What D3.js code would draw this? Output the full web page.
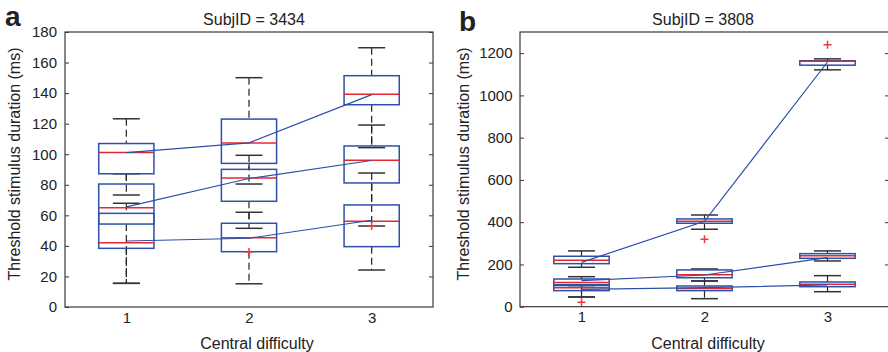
<!DOCTYPE html>
<html lang="en">
<head>
    <meta charset="utf-8">
    <title>Threshold stimulus duration by central difficulty</title>
    <style>
        body {
            margin: 0;
            background: white;
        }

        svg text {
            font-family: "Liberation Sans", Arial, sans-serif;
            fill: #222;
        }

        .frame {
            fill: none;
            stroke: #3a3a3a;
            stroke-width: 1.2;
        }

        .whisker {
            stroke: #222;
            stroke-width: 1.2;
            stroke-dasharray: 7 4;
        }

        .cap {
            stroke: #333;
            stroke-width: 1.5;
        }

        .box {
            fill: none;
            stroke: #2d51a8;
            stroke-width: 1.5;
        }

        .median {
            stroke: #e6282e;
            stroke-width: 1.5;
        }

        .trend {
            fill: none;
            stroke: #2a4faa;
            stroke-width: 1.2;
        }

        .outlier {
            fill: none;
            stroke: #ec3a40;
            stroke-width: 1.5;
        }
    </style>
</head>
<body>
<svg id="chart" width="888" height="352"></svg>
<script src="https://d3js.org/d3.v7.min.js"></script>
<script>
    // x categories
    const difficulty = [1, 2, 3];

    // panel a, SubjID = 3434: one row per block series (low, mid, high), one value per difficulty
    const aQ1 = [[38.4, 36.2, 39.5], [54.3, 69.2, 81.2], [87.2, 94.0, 132.4]];
    const aMedian = [[42.1, 45.4, 56.1], [65.0, 84.4, 96.0], [101.1, 107.3, 139.2]];
    const aQ3 = [[61.3, 54.8, 66.8], [80.5, 90.1, 105.4], [107.0, 123.0, 151.4]];
    const aLow = [[15.5, 15.2, 24.2], [15.5, 51.5, 53.0], [73.3, 80.5, 104.3]];
    const aHigh = [[67.9, 62.0, 87.7], [87.2, 99.3, 119.1], [123.2, 150.1, 169.7]];
    const aTrend = [[43.2, 45.0, 56.8], [65.5, 84.1, 95.9], [101.0, 107.4, 139.0]];
    const aOutX = [2, 3];
    const aOutY = [36.0, 53.0];
    const aTicks = [0, 20, 40, 60, 80, 100, 120, 140, 160, 180];

    // panel b, SubjID = 3808
    const bQ1 = [[76, 76, 94.7], [100, 137, 229], [203.7, 395, 1143]];
    const bMedian = [[90, 86, 106], [114, 151.6, 241.6], [219.8, 404, 1162]];
    const bQ3 = [[104, 98, 117], [131, 174, 251], [238.7, 415.4, 1164]];
    const bLow = [[46, 38, 71], [46, 121.7, 216.5], [186.6, 366.6, 1121]];
    const bHigh = [[100, 121.7, 147], [142, 178.6, 264], [264, 434, 1173]];
    const bTrend = [[82, 90, 103], [123, 150, 232], [210, 404, 1158]];
    const bOutX = [1, 2, 3];
    const bOutY = [21, 319, 1240];
    const bTicks = [0, 200, 400, 600, 800, 1000, 1200];

    const svg = d3.select("#chart");
    const boxWidth = 0.45;
    const capWidth = 0.22;

    function drawPanel(p)
    {
        const x = d3.scaleLinear().domain([0.5, 3.5]).range([p.left, p.right]);
        const y = d3.scaleLinear().domain([0, p.yMax]).range([p.bottom, p.top]);
        const g = svg.append("g");

        // flatten series x difficulty into one list of boxes
        const boxes = [];
        p.q1.forEach((row, s) =>
        {
            row.forEach((v, i) =>
            {
                boxes.push({
                    d: difficulty[i], q1: v, med: p.med[s][i], q3: p.q3[s][i],
                    lo: p.lo[s][i], hi: p.hi[s][i]
                });
            });
        });

        // y axis left with labels, right without; ticks point inward
        g.append("g").attr("transform", `translate(${p.left},0)`)
            .call(d3.axisLeft(y).tickValues(p.ticks).tickSizeInner(-4).tickSizeOuter(0)
                .tickPadding(p.pad).tickFormat(d3.format("d")))
            .call(a => a.select(".domain").remove())
            .call(a => a.selectAll("line").attr("stroke", "#333"))
            .call(a => a.selectAll("text").attr("font-size", 15).attr("fill", "#222"));

        g.append("g").attr("transform", `translate(${p.right},0)`)
            .call(d3.axisRight(y).tickValues(p.ticks.filter(t => t > 0)).tickSizeInner(-4).tickSizeOuter(0).tickFormat(""))
            .call(a => a.select(".domain").remove())
            .call(a => a.selectAll("line").attr("stroke", "#333"));

        g.append("g").attr("transform", `translate(0,${p.bottom})`)
            .call(d3.axisBottom(x).tickValues(difficulty).tickSize(0).tickPadding(5).tickFormat(d3.format("d")))
            .call(a => a.select(".domain").remove())
            .call(a => a.selectAll("text").attr("font-size", 15).attr("fill", "#222"));

        g.append("rect").attr("class", "frame")
            .attr("x", p.left).attr("y", p.top)
            .attr("width", p.right - p.left).attr("height", p.bottom - p.top);

        // whiskers
        g.selectAll(".whisker-up").data(boxes).join("line").attr("class", "whisker")
            .attr("x1", d => x(d.d)).attr("x2", d => x(d.d))
            .attr("y1", d => y(d.hi)).attr("y2", d => y(d.q3));
        g.selectAll(".whisker-down").data(boxes).join("line").attr("class", "whisker")
            .attr("x1", d => x(d.d)).attr("x2", d => x(d.d))
            .attr("y1", d => y(d.q1)).attr("y2", d => y(d.lo));

        ["lo", "hi"].forEach(k =>
        {
            g.append("g").selectAll("line").data(boxes).join("line").attr("class", "cap")
                .attr("x1", d => x(d.d - capWidth / 2)).attr("x2", d => x(d.d + capWidth / 2))
                .attr("y1", d => y(d[k])).attr("y2", d => y(d[k]));
        });

        g.append("g").selectAll("rect").data(boxes).join("rect").attr("class", "box")
            .attr("x", d => x(d.d - boxWidth / 2))
            .attr("width", x(boxWidth) - x(0))
            .attr("y", d => y(d.q3))
            .attr("height", d => y(d.q1) - y(d.q3));

        g.append("g").selectAll("line").data(boxes).join("line").attr("class", "median")
            .attr("x1", d => x(d.d - boxWidth / 2)).attr("x2", d => x(d.d + boxWidth / 2))
            .attr("y1", d => y(d.med)).attr("y2", d => y(d.med));

        const line = d3.line().x((v, i) => x(difficulty[i])).y(v => y(v));
        g.append("g").selectAll("path").data(p.trend).join("path").attr("class", "trend")
            .attr("d", line);

        g.append("g").selectAll("path").data(p.outX).join("path").attr("class", "outlier")
            .attr("d", (d, i) =>
            {
                const cx = x(d), cy = y(p.outY[i]);
                return `M${cx - 4},${cy}H${cx + 4}M${cx},${cy - 4}V${cy + 4}`;
            });

        g.append("text").attr("x", p.titleX).attr("y", 25)
            .attr("text-anchor", "middle").attr("font-size", 16).text(p.title);

        g.append("text").attr("x", p.xLabelX).attr("y", 349)
            .attr("text-anchor", "middle").attr("font-size", 16).text("Central difficulty");

        g.append("text").attr("transform", `translate(${p.yLabelX},164) rotate(-90)`)
            .attr("text-anchor", "middle").attr("font-size", 16)
            .text("Threshold stimulus duration (ms)");

        g.append("text").attr("x", p.letterX).attr("y", p.letterY)
            .attr("font-size", 28).attr("font-weight", "bold").text(p.letter);
    }

    drawPanel({
        left: 65, right: 433, top: 32, bottom: 307, yMax: 180, ticks: aTicks, pad: 8,
        q1: aQ1, med: aMedian, q3: aQ3, lo: aLow, hi: aHigh, trend: aTrend,
        outX: aOutX, outY: aOutY,
        title: "SubjID = 3434", titleX: 254, xLabelX: 257, yLabelX: 20,
        letter: "a", letterX: 5, letterY: 26
    });

    drawPanel({
        left: 520, right: 889, top: 32, bottom: 306.7, yMax: 1300, ticks: bTicks, pad: 7.5,
        q1: bQ1, med: bMedian, q3: bQ3, lo: bLow, hi: bHigh, trend: bTrend,
        outX: bOutX, outY: bOutY,
        title: "SubjID = 3808", titleX: 703, xLabelX: 708, yLabelX: 469,
        letter: "b", letterX: 459, letterY: 30.5
    });
</script>
</body>
</html>
